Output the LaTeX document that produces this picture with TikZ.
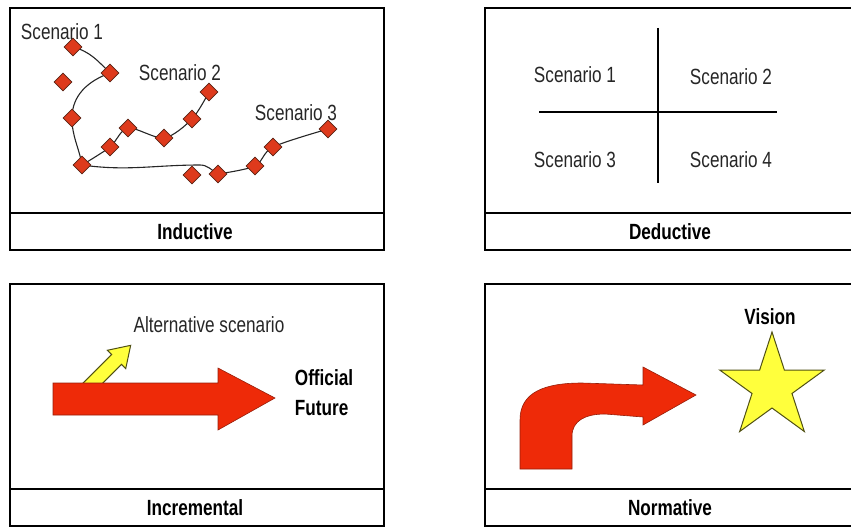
\documentclass[tikz,border=0pt]{standalone}
\usepackage{fontspec}
\setmainfont{Liberation Sans}
\usepackage{tikz}
\usetikzlibrary{shapes,arrows,positioning,calc,arrows.meta}

\definecolor{arrowred}{RGB}{238,42,8}
\definecolor{arrowedge}{RGB}{150,30,10}
\definecolor{gemred}{RGB}{222,58,28}
\definecolor{gemedge}{RGB}{90,35,20}
\definecolor{staryellow}{RGB}{255,255,60}
\definecolor{staredge}{RGB}{80,80,20}

\tikzset{
  frame/.style={line width=1.4pt},
  lbl/.style={font=\fontsize{22}{30}\selectfont, xscale=0.78, text=black!85, inner sep=0pt},
  title/.style={lbl, font=\fontsize{22}{30}\selectfont\bfseries, text=black},
  gem/.style={diamond, draw=gemedge, fill=gemred, line width=0.8pt, minimum size=18pt, inner sep=0pt},
  track/.style={line width=1.1pt, black!85},
  redarrow/.style={fill=arrowred, draw=arrowedge, line width=0.6pt},
  yellowarrow/.style={fill=staryellow, draw=staredge, line width=1pt},
}

\begin{document}
\begin{tikzpicture}[x=1pt, y=-1pt, >=latex, thick]
    \useasboundingbox (0,0) rectangle (851,527);
    \clip (0,0) rectangle (851,527);
    % the four panels with their titles
    \foreach \px/\py/\name in {10/8/Inductive, 485/8/Deductive, 10/284/Incremental, 485/284/Normative} {
        \draw[frame] (\px,\py) rectangle ++(374,242);
        \draw[line width=2.8pt] (\px,\py+205) -- ++(374,0);
        \node[title] (\name) at (\px+185,\py+224) {\name};
    }

    % inductive
    \foreach \n/\x/\y in {1/73/47, 2/110/73, 3/63/82, 4/72/118, 5/82/165, 6/110/147, 7/128/128, 8/164/138, 9/192/119, 10/209/92, 11/192/175, 12/218/174, 13/255/166, 14/273/147, 15/328/129}
        \coordinate (p\n) at (\x,\y);
    \coordinate (bend) at (200,165);
    \draw[track] (p1) to[out=-15,in=135] (p2);
    \draw[track] (p2) to[out=200,in=90] (p4) to[out=-90,in=100] (p5);
    \draw[track] plot[smooth, tension=0.5] coordinates {(p5) (p6) (p7) (p8) (p9) (p10)};
    \draw[track] (p5) to[out=-8,in=180] (bend) to[out=0,in=150] (p12);
    \draw[track] plot[smooth, tension=0.5] coordinates {(p12) (p13) (p14) (p15)};
    \foreach \n in {1,...,15}
        \node[gem] (g\n) at (p\n) {};
    \node[lbl] (sc1) at (62,32) {Scenario 1};
    \node[lbl] (sc2) at (180,73) {Scenario 2};
    \node[lbl] (sc3) at (296,113) {Scenario 3};

    % deductive
    \coordinate (vtop) at (658,28);
    \coordinate (vbot) at (658,183);
    \coordinate (hleft) at (539,112);
    \coordinate (hright) at (777,112);
    \draw[line width=1.3pt] (vtop) -- (vbot);
    \draw[line width=1.3pt] (hleft) -- (hright);
    \node[lbl] (q1) at (575,75) {Scenario 1};
    \node[lbl] (q2) at (731,77) {Scenario 2};
    \node[lbl] (q3) at (575,160) {Scenario 3};
    \node[lbl] (q4) at (731,160) {Scenario 4};

    % incremental
    \begin{scope}[shift={(84,392)}, rotate=45]
        \draw[yellowarrow] (0,-7) -- (46,-7) -- (46,-13) -- (66,0) -- (46,13) -- (46,7) -- (0,7) -- cycle;
    \end{scope}
    \draw[redarrow] (53,383) -- (218,383) -- (218,368) -- (275,398) -- (218,430) -- (218,415) -- (53,415) -- cycle;
    \node[lbl] (alt) at (209,325) {Alternative scenario};
    \node[title, align=left] (official) at (324,393) {Official\\Future};

    % normative
    \draw[redarrow] (520,469) -- (520,420) .. controls (520,392) and (545,383) .. (582,383)
        -- (643,385) -- (643,367) -- (696,395) -- (643,425) -- (643,417) -- (605,414)
        .. controls (585,414) and (572,421) .. (572,436) -- (572,469) -- cycle;
    \node[star, star points=5, star point ratio=2.618, minimum size=110pt, inner sep=0pt,
        draw=staredge, fill=staryellow, line width=1pt] (goal) at (772,387) {};
    \node[title] (vision) at (770,317) {Vision};
\end{tikzpicture}
\end{document}
